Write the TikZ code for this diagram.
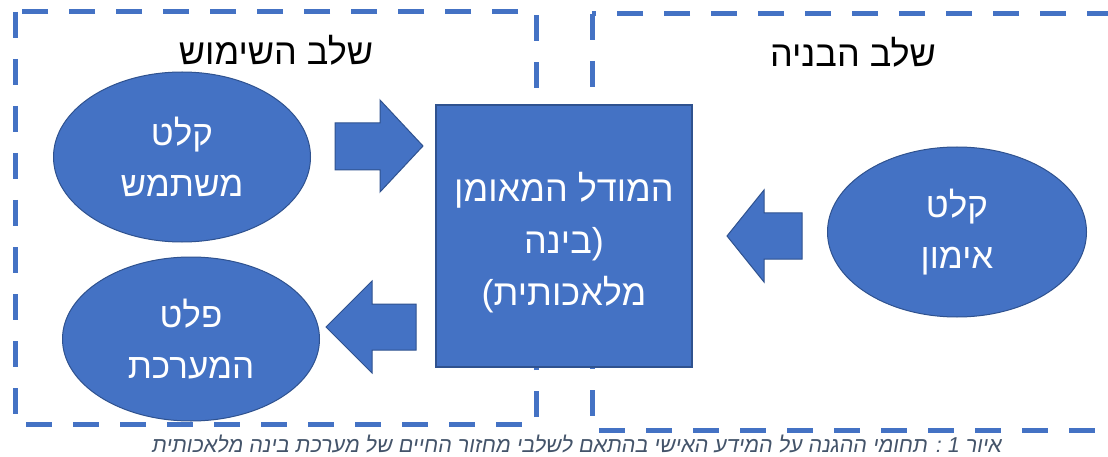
\documentclass[tikz,border=0pt]{standalone}
\usepackage{fontspec}
\setmainfont{Liberation Sans}
\newfontfamily\heb[Script=Hebrew]{Liberation Sans}
\newfontfamily\hebit[Script=Hebrew,FakeSlant=0.18]{Liberation Sans}
\TeXXeTstate=1
\usetikzlibrary{shapes.geometric}
\definecolor{fillblue}{HTML}{4472C4}
\definecolor{edgeblue}{HTML}{2F528F}
\definecolor{capgray}{HTML}{44546A}
\newcommand{\hebline}[1]{\beginR #1\endR}
\begin{document}
\begin{tikzpicture}[x=1pt,y=-1pt,
  dashbox/.style={draw=fillblue,line width=5pt,dash pattern=on 26pt off 21pt},
  bubble/.style={ellipse,draw=edgeblue,line width=1pt,fill=fillblue,text=white,
    align=center,font=\heb\fontsize{35}{51}\selectfont,inner sep=0pt},
  modelbox/.style={rectangle,draw=edgeblue,line width=1.5pt,fill=fillblue,inner sep=0pt},
  boxtext/.style={text=white,align=center,font=\heb\fontsize{36}{52}\selectfont,inner sep=0pt},
  blockarrow/.style={draw=edgeblue,line width=1pt,fill=fillblue,line join=miter},
  phase/.style={text=black,font=\heb\fontsize{36}{44}\selectfont,inner sep=0pt},
  caption/.style={text=capgray,font=\hebit\fontsize{21.5}{26}\selectfont,inner sep=0pt}]
\useasboundingbox (0,0) rectangle (1108,457);
\clip (0,0) rectangle (1108,457);
\fill[white] (0,0) rectangle (1108,457);
% phase frames
\draw[dashbox] (15,12) rectangle (536,424);
\draw[dashbox] (592,14) rectangle (1118,430);
\node[phase] (usephase) at (276,50) {\hebline{שלב השימוש}};
\node[phase] (buildphase) at (853,52) {\hebline{שלב הבניה}};
% central model
\node[modelbox,minimum width=256pt,minimum height=262pt] (model) at (564,236) {};
\node[boxtext] (modellabel) at (564,243)
  {\hebline{המודל המאומן}\\\hebline{(בינה}\\\hebline{מלאכותית)}};
% ellipses
\node[bubble,minimum width=257pt,minimum height=170pt] (userin) at (182,157)
  {\hebline{קלט}\\\hebline{משתמש}};
\node[bubble,minimum width=257pt,minimum height=164pt] (sysout) at (191,339)
  {\hebline{פלט}\\\hebline{המערכת}};
\node[bubble,minimum width=259pt,minimum height=170pt] (trainin) at (957,232)
  {\hebline{קלט}\\\hebline{אימון}};
% block arrows
\draw[blockarrow] (335,123) -- (380,123) -- (380,100) -- (423,146) -- (380,192)
  -- (380,170) -- (335,170) -- cycle;
\draw[blockarrow] (416,304) -- (372,304) -- (372,281) -- (326,327) -- (372,373)
  -- (372,350) -- (416,350) -- cycle;
\draw[blockarrow] (802,213) -- (764,213) -- (764,190) -- (727,236) -- (764,282)
  -- (764,259) -- (802,259) -- cycle;
% caption
\node[caption] (cap) at (576,444)
  {\hebline{איור 1 : תחומי ההגנה על המידע האישי בהתאם לשלבי מחזור החיים של מערכת בינה מלאכותית}};
\end{tikzpicture}
\end{document}
